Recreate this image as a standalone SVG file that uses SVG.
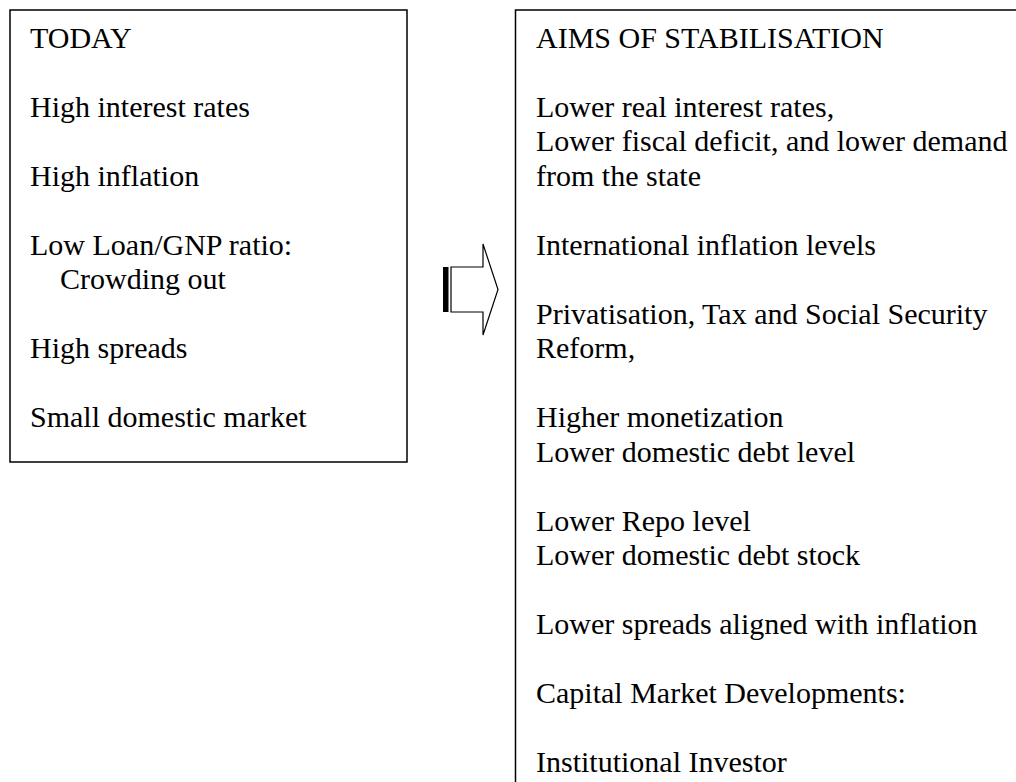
<svg xmlns="http://www.w3.org/2000/svg" width="1016" height="782" viewBox="0 0 1016 782">
<style>
.box{fill:#fff;stroke:#000;stroke-width:1.5}
.t{font-family:"Liberation Serif","Times New Roman",serif;font-size:30px;fill:#000}
.arr{fill:#fff;stroke:#000;stroke-width:1.2;stroke-linejoin:miter}
</style>
<rect width="1016" height="782" fill="#fff"/>
<g id="today">
<rect class="box" x="10" y="10" width="397" height="452"/>
<text class="t" x="30" y="47.5">TODAY</text>
<text class="t" x="30" y="116.5">High interest rates</text>
<text class="t" x="30" y="185.5">High inflation</text>
<text class="t" x="30" y="254.5">Low Loan/GNP ratio:</text>
<text class="t" x="60" y="289">Crowding out</text>
<text class="t" x="30" y="358">High spreads</text>
<text class="t" x="30" y="427">Small domestic market</text>
</g>
<g id="aims">
<rect class="box" x="515.5" y="10" width="600" height="790"/>
<text class="t" x="536" y="47.5">AIMS OF STABILISATION</text>
<text class="t" x="536" y="116.5">Lower real interest rates,</text>
<text class="t" x="536" y="151">Lower fiscal deficit, and lower demand</text>
<text class="t" x="536" y="185.5">from the state</text>
<text class="t" x="536" y="254.5">International inflation levels</text>
<text class="t" x="536" y="323.5">Privatisation, Tax and Social Security</text>
<text class="t" x="536" y="358">Reform,</text>
<text class="t" x="536" y="427">Higher monetization</text>
<text class="t" x="536" y="461.5">Lower domestic debt level</text>
<text class="t" x="536" y="530.5">Lower Repo level</text>
<text class="t" x="536" y="565">Lower domestic debt stock</text>
<text class="t" x="536" y="634">Lower spreads aligned with inflation</text>
<text class="t" x="536" y="703">Capital Market Developments:</text>
<text class="t" x="536" y="772">Institutional Investor</text>
</g>
<g id="connectors">
<rect x="443" y="267" width="5.5" height="45" fill="#000"/>
<polygon class="arr" points="451,267 483,267 483,244 498,289.5 483,335 483,312 451,312"/>
</g>
</svg>
